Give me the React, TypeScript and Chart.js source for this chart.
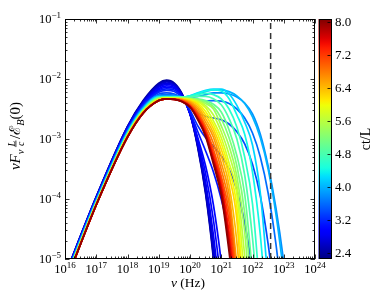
import React, { useEffect, useRef } from "react";
import { Chart, registerables } from "chart.js";

Chart.register(...registerables);

// ---- data (log10 values) ----
const LOG_NU = [16, 17, 18, 18.5, 19, 19.25, 19.5, 19.75, 20, 20.25, 20.5, 20.75, 21, 21.25, 21.5, 21.75, 22, 22.25, 22.5, 22.75, 23, 23.25];

const CT_L = [2.4, 2.5, 2.6, 2.7, 2.8, 2.9, 3.0, 3.1, 3.2, 3.4, 3.6, 3.8, 4.0, 4.2, 4.4, 4.6, 4.8, 5.0, 5.2, 5.4, 5.6, 5.8, 6.0, 6.2, 6.4, 6.6, 6.8, 7.0, 7.2, 7.4, 7.6, 7.8, 8.0];

const S_24 = [-5.27, -3.96, -2.79, -2.36, -2.07, -2.02, -2.07, -2.25, -2.58, -3.15, -3.92, -5.0, -6.4];
const S_25 = [-5.275, -3.965, -2.795, -2.37, -2.085, -2.035, -2.08, -2.255, -2.58, -3.13, -3.89, -4.95, -6.35];
const S_26 = [-5.28, -3.97, -2.8, -2.38, -2.1, -2.05, -2.09, -2.26, -2.58, -3.12, -3.86, -4.9, -6.3];
const S_27 = [-5.285, -3.975, -2.81, -2.39, -2.12, -2.07, -2.105, -2.27, -2.58, -3.09, -3.79, -4.75, -6.0];
const S_28 = [-5.29, -3.98, -2.82, -2.4, -2.14, -2.09, -2.12, -2.28, -2.58, -3.06, -3.72, -4.6, -5.8];
const S_29 = [-5.295, -3.985, -2.825, -2.41, -2.16, -2.115, -2.14, -2.29, -2.575, -3.02, -3.58, -4.35, -5.4];
const S_30 = [-5.3, -3.99, -2.83, -2.42, -2.18, -2.14, -2.16, -2.3, -2.57, -2.98, -3.45, -4.1, -5.05, -6.3];
const S_31 = [-5.305, -3.995, -2.84, -2.43, -2.2, -2.165, -2.185, -2.31, -2.55, -2.88, -3.2, -3.55, -4.0, -4.6, -5.5];
const S_32 = [-5.31, -4.0, -2.85, -2.44, -2.22, -2.19, -2.21, -2.32, -2.52, -2.78, -2.98, -3.12, -3.28, -3.5, -3.85, -4.4, -5.2, -6.3];
const S_34 = [-5.32, -4.01, -2.86, -2.46, -2.25, -2.23, -2.25, -2.32, -2.44, -2.56, -2.62, -2.65, -2.68, -2.75, -2.88, -3.08, -3.42, -3.95, -4.75, -5.8];
const S_36 = [-5.33, -4.02, -2.87, -2.47, -2.27, -2.26, -2.27, -2.31, -2.36, -2.38, -2.37, -2.36, -2.37, -2.41, -2.5, -2.65, -2.9, -3.3, -3.9, -4.75, -5.9];
const S_38 = [-5.34, -4.03, -2.88, -2.48, -2.28, -2.28, -2.28, -2.3, -2.31, -2.29, -2.26, -2.23, -2.23, -2.25, -2.3, -2.4, -2.58, -2.92, -3.45, -4.15, -5.05, -6.2];
const S_40 = [-5.35, -4.04, -2.89, -2.49, -2.29, -2.29, -2.29, -2.3, -2.29, -2.25, -2.21, -2.18, -2.18, -2.21, -2.28, -2.41, -2.63, -2.98, -3.5, -4.25, -5.25, -6.4];
const S_42 = [-5.36, -4.05, -2.9, -2.5, -2.3, -2.3, -2.3, -2.3, -2.28, -2.23, -2.19, -2.17, -2.17, -2.25, -2.44, -2.72, -3.1, -3.9, -5.4, -7.0];
const S_44 = [-5.36, -4.05, -2.91, -2.51, -2.3, -2.3, -2.3, -2.3, -2.28, -2.24, -2.2, -2.18, -2.2, -2.33, -2.6, -2.92, -3.55, -4.6, -6.2];
const S_46 = [-5.37, -4.06, -2.91, -2.51, -2.31, -2.3, -2.3, -2.3, -2.29, -2.26, -2.24, -2.26, -2.33, -2.5, -2.8, -3.3, -4.08, -5.6, -7.0];
const S_48 = [-5.37, -4.06, -2.92, -2.52, -2.31, -2.3, -2.3, -2.3, -2.3, -2.29, -2.29, -2.33, -2.43, -2.66, -3.0, -3.6, -4.65, -6.2];
const S_50 = [-5.38, -4.07, -2.92, -2.52, -2.32, -2.31, -2.31, -2.31, -2.32, -2.33, -2.36, -2.42, -2.55, -2.85, -3.28, -3.92, -5.25, -6.8];
const S_52 = [-5.38, -4.07, -2.93, -2.53, -2.32, -2.31, -2.315, -2.315, -2.325, -2.34, -2.385, -2.46, -2.66, -2.98, -3.45, -4.23, -5.7, -7.0];
const S_54 = [-5.39, -4.08, -2.93, -2.53, -2.33, -2.32, -2.32, -2.32, -2.33, -2.35, -2.41, -2.5, -2.78, -3.12, -3.62, -4.55, -6.2];
const S_56 = [-5.39, -4.08, -2.94, -2.54, -2.33, -2.32, -2.32, -2.325, -2.335, -2.365, -2.445, -2.6, -2.88, -3.26, -3.77, -4.95, -6.5];
const S_58 = [-5.4, -4.08, -2.94, -2.54, -2.34, -2.32, -2.32, -2.33, -2.34, -2.38, -2.48, -2.7, -2.98, -3.4, -3.92, -5.35, -6.8];
const S_60 = [-5.4, -4.09, -2.95, -2.55, -2.34, -2.32, -2.325, -2.332, -2.35, -2.405, -2.54, -2.765, -3.07, -3.51, -4.13, -5.8, -7.0];
const S_62 = [-5.4, -4.09, -2.95, -2.55, -2.35, -2.33, -2.33, -2.335, -2.36, -2.43, -2.6, -2.83, -3.17, -3.62, -4.35, -6.3];
const S_64 = [-5.41, -4.09, -2.96, -2.56, -2.35, -2.33, -2.33, -2.34, -2.375, -2.465, -2.66, -2.9, -3.28, -3.77, -4.72, -6.35];
const S_66 = [-5.41, -4.1, -2.96, -2.56, -2.36, -2.33, -2.33, -2.345, -2.39, -2.5, -2.72, -2.97, -3.4, -3.92, -5.1, -6.4];
const S_68 = [-5.41, -4.1, -2.96, -2.56, -2.36, -2.33, -2.333, -2.35, -2.41, -2.54, -2.78, -3.07, -3.51, -4.07, -5.25, -6.5];
const S_70 = [-5.42, -4.1, -2.97, -2.57, -2.36, -2.33, -2.335, -2.36, -2.43, -2.58, -2.83, -3.17, -3.62, -4.22, -5.4, -6.6];
const S_72 = [-5.42, -4.1, -2.97, -2.57, -2.36, -2.33, -2.337, -2.365, -2.44, -2.6, -2.86, -3.24, -3.69, -4.38, -5.55, -6.7];
const S_74 = [-5.42, -4.1, -2.97, -2.57, -2.36, -2.33, -2.34, -2.37, -2.45, -2.63, -2.89, -3.3, -3.76, -4.55, -5.7];
const S_76 = [-5.42, -4.1, -2.97, -2.57, -2.36, -2.33, -2.34, -2.375, -2.46, -2.65, -2.92, -3.34, -3.82, -4.67, -5.8];
const S_78 = [-5.42, -4.1, -2.97, -2.57, -2.36, -2.33, -2.34, -2.38, -2.465, -2.665, -2.94, -3.38, -3.88, -4.78, -5.9];
const S_80 = [-5.42, -4.1, -2.97, -2.57, -2.36, -2.33, -2.34, -2.38, -2.47, -2.68, -2.96, -3.42, -3.94, -4.88, -6.0];

const SERIES = [S_24, S_25, S_26, S_27, S_28, S_29, S_30, S_31, S_32, S_34, S_36, S_38, S_40, S_42, S_44, S_46, S_48, S_50, S_52, S_54, S_56, S_58, S_60, S_62, S_64, S_66, S_68, S_70, S_72, S_74, S_76, S_78, S_80];

const DASH_LOG_NU = 22.58;

const X_DECADES = [16, 17, 18, 19, 20, 21, 22, 23, 24];
const Y_DECADES = [-5, -4, -3, -2, -1];
const CB_TICKS = [2.4, 3.2, 4.0, 4.8, 5.6, 6.4, 7.2, 8.0];
const CB_MIN = 2.25;
const CB_MAX = 8.07;

// ---- jet colormap ----
const JET_R = [[0, 0], [0.35, 0], [0.66, 1], [0.89, 1], [1, 0.5]];
const JET_G = [[0, 0], [0.125, 0], [0.375, 1], [0.64, 1], [0.91, 0], [1, 0]];
const JET_B = [[0, 0.5], [0.11, 1], [0.34, 1], [0.65, 0], [1, 0]];
function seg(p: number[][], t: number) {
  if (t <= p[0][0]) return p[0][1];
  for (let i = 1; i < p.length; i++) {
    if (t <= p[i][0]) {
      const [x0, y0] = p[i - 1];
      const [x1, y1] = p[i];
      return y0 + ((y1 - y0) * (t - x0)) / (x1 - x0);
    }
  }
  return p[p.length - 1][1];
}
function jet(t: number) {
  const c = Math.max(0, Math.min(1, t));
  return `rgb(${Math.round(255 * seg(JET_R, c))},${Math.round(255 * seg(JET_G, c))},${Math.round(255 * seg(JET_B, c))})`;
}

const SERIF = '"Liberation Serif", "DejaVu Serif", "Times New Roman", serif';
const fnt = (size: number, italic = false) => `${italic ? "italic " : ""}${size}px ${SERIF}`;

function drawYTitle(ctx: CanvasRenderingContext2D, cx: number, cy: number) {
  const big = 15;
  const small = 10.5;
  const items: any[] = [
    { k: "t", t: "ν", s: big, it: true, dy: 0 },
    { k: "t", t: "F", s: big, it: true, dy: 0 },
    { k: "t", t: "ν", s: small, it: true, dy: 3.5 },
    { k: "sp", w: 2 },
    { k: "frac", n: "L", d: "c", s: 10 },
    { k: "sp", w: 1 },
    { k: "t", t: "/", s: big, it: false, dy: 0 },
    { k: "t", t: "ℰ", s: big, it: false, dy: 0 },
    { k: "t", t: "B", s: small, it: true, dy: 3.5 },
    { k: "t", t: "(0)", s: big, it: false, dy: 0 },
  ];
  let total = 0;
  for (const it of items) {
    if (it.k === "t") {
      ctx.font = fnt(it.s, it.it);
      it.w = ctx.measureText(it.t).width;
    } else if (it.k === "frac") {
      ctx.font = fnt(it.s, true);
      it.w = Math.max(ctx.measureText(it.n).width, ctx.measureText(it.d).width) + 2;
    }
    total += it.w;
  }
  ctx.save();
  ctx.translate(cx, cy);
  ctx.rotate(-Math.PI / 2);
  ctx.textBaseline = "alphabetic";
  ctx.textAlign = "left";
  let x = -total / 2;
  for (const it of items) {
    if (it.k === "t") {
      ctx.font = fnt(it.s, it.it);
      ctx.fillText(it.t, x, it.dy);
    } else if (it.k === "frac") {
      ctx.font = fnt(it.s, true);
      ctx.textAlign = "center";
      ctx.fillText(it.n, x + it.w / 2, -5.5);
      ctx.fillText(it.d, x + it.w / 2, 3.5);
      ctx.textAlign = "left";
      ctx.fillRect(x + 0.5, -4.5, it.w - 1, 0.8);
    }
    x += it.w;
  }
  ctx.restore();
}

const decor = {
  id: "decor",
  afterDraw(chart: any) {
    const ctx = chart.ctx as CanvasRenderingContext2D;
    const { left, right, top, bottom } = chart.chartArea;
    const xs = chart.scales.x;
    const ys = chart.scales.y;
    const cs = chart.scales.cb;
    ctx.save();
    ctx.fillStyle = "#000";
    ctx.strokeStyle = "#000";

    // frame
    ctx.lineWidth = 1;
    ctx.strokeRect(left + 0.5, top + 0.5, right - left - 1, bottom - top - 1);

    const line = (x1: number, y1: number, x2: number, y2: number) => {
      ctx.beginPath();
      ctx.moveTo(x1, y1);
      ctx.lineTo(x2, y2);
      ctx.stroke();
    };
    const snap = (v: number) => Math.round(v) + 0.5;
    ctx.lineWidth = 0.8;
    X_DECADES.forEach((k, i) => {
      const px = snap(xs.getPixelForValue(Math.pow(10, k)));
      line(px, bottom, px, bottom - 4.5);
      line(px, top, px, top + 4.5);
      if (i < X_DECADES.length - 1) {
        for (let m = 2; m <= 9; m++) {
          const p = snap(xs.getPixelForValue(m * Math.pow(10, k)));
          line(p, bottom, p, bottom - 2.5);
          line(p, top, p, top + 2.5);
        }
      }
    });
    Y_DECADES.forEach((k, i) => {
      const py = snap(ys.getPixelForValue(Math.pow(10, k)));
      line(left, py, left + 4.5, py);
      line(right, py, right - 4.5, py);
      if (i < Y_DECADES.length - 1) {
        for (let m = 2; m <= 9; m++) {
          const p = snap(ys.getPixelForValue(m * Math.pow(10, k)));
          line(left, p, left + 2.5, p);
          line(right, p, right - 2.5, p);
        }
      }
    });

    // tick labels
    const base = 12.5;
    const sup = 9;
    ctx.textBaseline = "alphabetic";
    ctx.textAlign = "left";
    X_DECADES.forEach((k) => {
      const px = xs.getPixelForValue(Math.pow(10, k));
      const es = String(k);
      ctx.font = fnt(base);
      const w1 = ctx.measureText("10").width;
      ctx.font = fnt(sup);
      const w2 = ctx.measureText(es).width;
      const x0 = px - (w1 + w2) / 2;
      ctx.font = fnt(base);
      ctx.fillText("10", x0, bottom + 14);
      ctx.font = fnt(sup);
      ctx.fillText(es, x0 + w1, bottom + 9);
    });
    Y_DECADES.forEach((k) => {
      const py = ys.getPixelForValue(Math.pow(10, k));
      const es = "\u2212" + Math.abs(k);
      ctx.font = fnt(base);
      const w1 = ctx.measureText("10").width;
      ctx.font = fnt(sup);
      const w2 = ctx.measureText(es).width;
      const xr = left - 4;
      ctx.fillText(es, xr - w2, py - 1.5);
      ctx.font = fnt(base);
      ctx.fillText("10", xr - w2 - w1, py + 4);
    });

    // x title
    ctx.font = fnt(13.5, true);
    const wn = ctx.measureText("ν").width;
    ctx.font = fnt(13.5);
    const wr = ctx.measureText(" (Hz)").width;
    const tx = (left + right) / 2 - 2 - (wn + wr) / 2;
    ctx.font = fnt(13.5, true);
    ctx.fillText("ν", tx, bottom + 28);
    ctx.font = fnt(13.5);
    ctx.fillText(" (Hz)", tx + wn, bottom + 28);

    // y title
    drawYTitle(ctx, 12, (top + bottom) / 2 - 3);

    // colorbar
    const cbL = right + 3.5;
    const cbR = right + 16;
    const yMin = cs.getPixelForValue(CB_MIN);
    const yMax = cs.getPixelForValue(CB_MAX);
    const grad = ctx.createLinearGradient(0, yMin, 0, yMax);
    for (let i = 0; i <= 50; i++) grad.addColorStop(i / 50, jet(i / 50));
    ctx.fillStyle = grad;
    ctx.fillRect(cbL, yMax, cbR - cbL, yMin - yMax);
    ctx.lineWidth = 1;
    ctx.strokeStyle = "#000";
    ctx.strokeRect(Math.round(cbL) + 0.5, yMax + 0.5, Math.round(cbR - cbL) - 1, yMin - yMax - 1);
    ctx.fillStyle = "#000";
    ctx.lineWidth = 0.8;
    ctx.font = fnt(13);
    ctx.textBaseline = "middle";
    CB_TICKS.forEach((v) => {
      const py = snap(cs.getPixelForValue(v));
      line(cbR - 0.5, py, cbR - 3.5, py);
      ctx.fillText(v.toFixed(1), cbR + 4, py + 0.5);
    });

    // colorbar label
    ctx.save();
    ctx.translate(cbR + 35, (top + bottom) / 2);
    ctx.rotate(-Math.PI / 2);
    ctx.textAlign = "center";
    ctx.textBaseline = "middle";
    ctx.font = fnt(14);
    ctx.fillText("ct/L", 0, 0);
    ctx.restore();

    ctx.restore();
  },
};

export default function App() {
  const ref = useRef<HTMLCanvasElement | null>(null);
  useEffect(() => {
    if (!ref.current) return;
    const n = SERIES.length;
    const datasets: any[] = SERIES.map((s, i) => ({
      data: s.map((v, j) => ({ x: Math.pow(10, LOG_NU[j]), y: Math.pow(10, v) })),
      borderColor: jet((CT_L[i] - CB_MIN) / (CB_MAX - CB_MIN)),
      borderWidth: 1.7,
      pointRadius: 0,
      fill: false,
      cubicInterpolationMode: "monotone",
      order: n - i,
      clip: 0,
    }));
    datasets.push({
      data: [
        { x: Math.pow(10, DASH_LOG_NU), y: 1e-5 },
        { x: Math.pow(10, DASH_LOG_NU), y: 1e-1 },
      ],
      borderColor: "#333333",
      borderWidth: 1.5,
      borderDash: [6, 4],
      pointRadius: 0,
      fill: false,
      order: -1,
      clip: 0,
    });
    const chart = new Chart(ref.current, {
      type: "line",
      data: { datasets },
      options: {
        responsive: false,
        animation: false,
        devicePixelRatio: 1,
        layout: { padding: { left: 57, right: 59, top: 11, bottom: 39 } },
        plugins: { legend: { display: false }, tooltip: { enabled: false } },
        scales: {
          x: { type: "logarithmic", min: 1e16, max: 1e24, display: false },
          y: { type: "logarithmic", min: 1e-5, max: 1e-1, display: false },
          cb: { type: "linear", position: "right", min: CB_MIN, max: CB_MAX, display: false },
        },
      } as any,
      plugins: [decor],
    });
    return () => chart.destroy();
  }, []);
  return (
    <div style={{ width: 366, height: 290 }}>
      <canvas ref={ref} width={366} height={290} style={{ display: "block" }} />
    </div>
  );
}
